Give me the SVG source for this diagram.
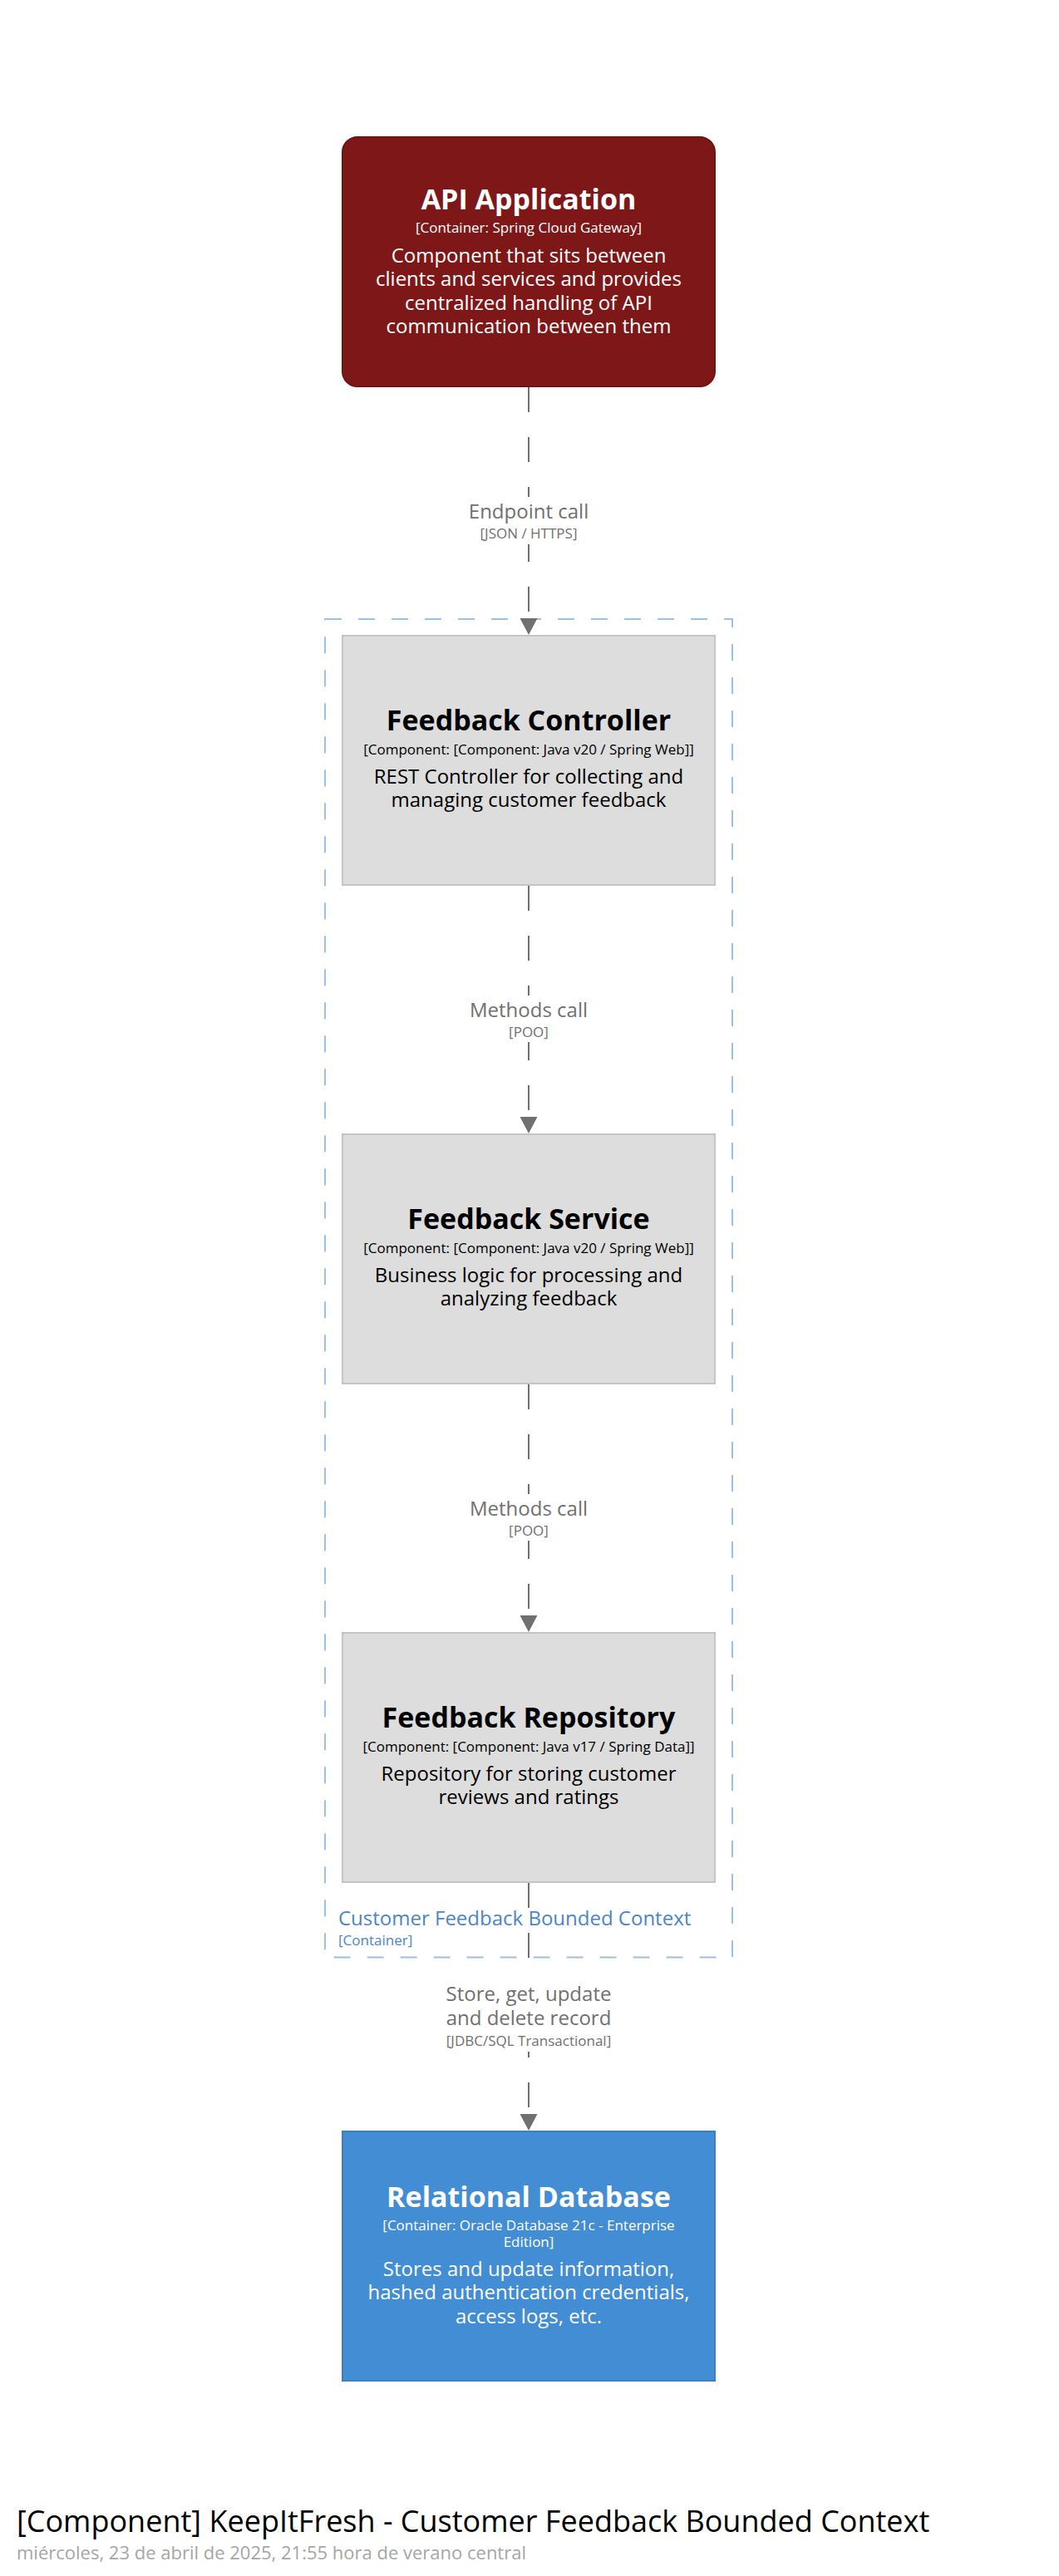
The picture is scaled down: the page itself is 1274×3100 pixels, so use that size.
<svg xmlns="http://www.w3.org/2000/svg" width="1274" height="3100" viewBox="0 0 1274 3100">
<defs>
<style>
text{font-family:"Open Sans","Noto Sans","DejaVu Sans",sans-serif;text-anchor:middle}
.name{font-size:34px;font-weight:700}
.meta{font-size:17px}
.desc{font-size:24px}
.light{fill:#ffffff}
.dark{fill:#000000}
.comp{fill:#dddddd;stroke:#c4c4c4;stroke-width:2}
.api{fill:#7e1818;stroke:#6e1414;stroke-width:2}
.db{fill:#438dd5;stroke:#3c7ec2;stroke-width:2}
.edge{fill:none;stroke:#707070;stroke-width:2;stroke-dasharray:30 30;marker-end:url(#arrow)}
.lbl{fill:#707070}
.lblbg{fill:#ffffff}
.boundary{fill:none;stroke:#9ec0e2;stroke-width:2;stroke-dasharray:20 20}
.blabel{fill:#4a86c8;text-anchor:start}
</style>
<marker id="arrow" markerUnits="userSpaceOnUse" markerWidth="20" markerHeight="21" refX="20" refY="10.5" orient="auto">
<path d="M0,0 L20,10.5 L0,21 Z" fill="#707070"/>
</marker>
</defs>
<rect x="0" y="0" width="1274" height="3100" fill="#ffffff"/>

<g id="boundary-customer-feedback">
<rect class="boundary" x="391" y="745" width="490" height="1610.6"/>
<text class="blabel" x="407" y="2317" font-size="24">Customer Feedback Bounded Context</text>
<text class="blabel" x="407" y="2341" font-size="17">[Container]</text>
</g>

<g id="connectors">
<path class="edge" d="M636,466 L636,764"/>
<rect class="lblbg" x="564" y="598" width="144" height="57"/>
<text class="lbl" x="636" y="623.7" font-size="24">Endpoint call</text>
<text class="lbl" x="636" y="647.8" font-size="17">[JSON / HTTPS]</text>

<path class="edge" d="M636,1066 L636,1364"/>
<rect class="lblbg" x="566" y="1198" width="140" height="56"/>
<text class="lbl" x="636" y="1223.5" font-size="24">Methods call</text>
<text class="lbl" x="636" y="1248" font-size="17">[POO]</text>

<path class="edge" d="M636,1666 L636,1964"/>
<rect class="lblbg" x="566" y="1798" width="140" height="56"/>
<text class="lbl" x="636" y="1823.5" font-size="24">Methods call</text>
<text class="lbl" x="636" y="1848" font-size="17">[POO]</text>

<path class="edge" d="M636,2266 L636,2564"/>
<rect class="lblbg" x="532" y="2386" width="208" height="83"/>
<text class="lbl" x="636" y="2408.2" font-size="24">Store, get, update</text>
<text class="lbl" x="636" y="2436.8" font-size="24">and delete record</text>
<text class="lbl" x="636" y="2461.8" font-size="17">[JDBC/SQL Transactional]</text>
</g>

<g id="api-application">
<rect class="api" x="412" y="165" width="448" height="300" rx="18" ry="18"/>
<text class="name light" x="636" y="252">API Application</text>
<text class="meta light" x="636" y="280">[Container: Spring Cloud Gateway]</text>
<text class="desc light" x="636" y="315.5">Component that sits between</text>
<text class="desc light" x="636" y="344">clients and services and provides</text>
<text class="desc light" x="636" y="372.5">centralized handling of API</text>
<text class="desc light" x="636" y="401">communication between them</text>
</g>

<g id="feedback-controller">
<rect class="comp" x="412" y="765" width="448" height="300"/>
<text class="name dark" x="636" y="878.5">Feedback Controller</text>
<text class="meta dark" x="636" y="907.5">[Component: [Component: Java v20 / Spring Web]]</text>
<text class="desc dark" x="636" y="942.5">REST Controller for collecting and</text>
<text class="desc dark" x="636" y="971">managing customer feedback</text>
</g>

<g id="feedback-service">
<rect class="comp" x="412" y="1365" width="448" height="300"/>
<text class="name dark" x="636" y="1478.5">Feedback Service</text>
<text class="meta dark" x="636" y="1507.5">[Component: [Component: Java v20 / Spring Web]]</text>
<text class="desc dark" x="636" y="1542.5">Business logic for processing and</text>
<text class="desc dark" x="636" y="1571">analyzing feedback</text>
</g>

<g id="feedback-repository">
<rect class="comp" x="412" y="1965" width="448" height="300"/>
<text class="name dark" x="636" y="2078.5">Feedback Repository</text>
<text class="meta dark" x="636" y="2107.5">[Component: [Component: Java v17 / Spring Data]]</text>
<text class="desc dark" x="636" y="2142.5">Repository for storing customer</text>
<text class="desc dark" x="636" y="2171">reviews and ratings</text>
</g>

<g id="relational-database">
<rect class="db" x="412" y="2565" width="448" height="300"/>
<text class="name light" x="636" y="2656">Relational Database</text>
<text class="meta light" x="636" y="2683.5">[Container: Oracle Database 21c - Enterprise</text>
<text class="meta light" x="636" y="2703.5">Edition]</text>
<text class="desc light" x="636" y="2738.5">Stores and update information,</text>
<text class="desc light" x="636" y="2767">hashed authentication credentials,</text>
<text class="desc light" x="636" y="2796">access logs, etc.</text>
</g>

<g id="diagram-title">
<text x="20" y="3046.7" font-size="36" fill="#000000" style="text-anchor:start">[Component] KeepItFresh - Customer Feedback Bounded Context</text>
<text x="20" y="3080" font-size="22" fill="#a6a6a6" style="text-anchor:start">miércoles, 23 de abril de 2025, 21:55 hora de verano central</text>
</g>
</svg>
